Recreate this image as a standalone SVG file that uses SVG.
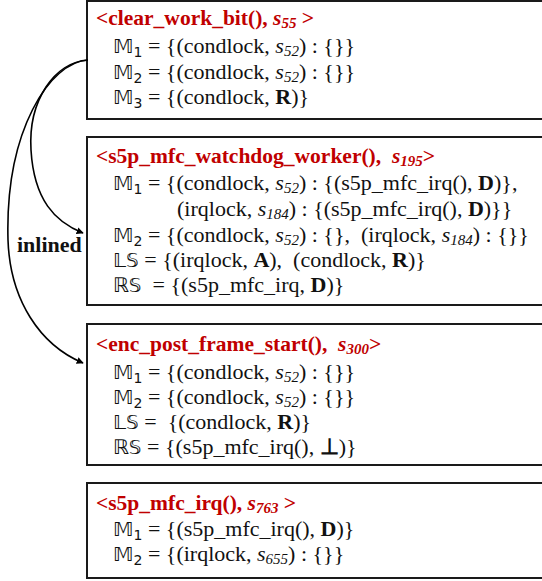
<svg xmlns="http://www.w3.org/2000/svg" width="542" height="581" viewBox="0 0 542 581">
  <style>
    .box { fill: #ffffff; stroke: #1a1a1a; stroke-width: 2; }
    .title { font-family: "Liberation Serif", "Times New Roman", serif; font-size: 21.5px; font-weight: bold; fill: #c00000; white-space: pre; }
    .body { font-family: "Liberation Serif", "Times New Roman", serif; font-size: 22px; fill: #111111; white-space: pre; }
    .ds { font-family: "DejaVu Sans", "Noto Sans", sans-serif; font-size: 20px; }
    .idx { font-family: "DejaVu Sans", "Noto Sans", sans-serif; font-size: 14px; }
    .sub { font-style: italic; font-size: 15px; }
    .it { font-style: italic; }
    .b { font-weight: bold; }
    .conn { fill: none; stroke: #000000; stroke-width: 1.6; }
    .label { font-family: "Liberation Serif", "Times New Roman", serif; font-size: 22px; font-weight: bold; fill: #111111; }
  </style>
  <defs>
    <marker id="arrow" viewBox="0 0 10 10" refX="9" refY="5" markerWidth="7" markerHeight="7" markerUnits="userSpaceOnUse" orient="auto">
      <path d="M0,0 L10,5 L0,10 z" fill="#000000"/>
    </marker>
  </defs>

  <rect width="542" height="581" fill="#ffffff"/>

  <!-- clear_work_bit -->
  <g id="clear_work_bit">
    <rect class="box" x="87" y="1" width="470" height="118"/>
    <text class="title" x="96" y="25">&lt;clear_work_bit(), <tspan class="it">s</tspan><tspan class="sub" dy="3">55</tspan><tspan dy="-3"> &gt;</tspan></text>
    <text class="body" x="113" y="53"><tspan class="ds">𝕄</tspan><tspan class="idx" dy="4">1</tspan><tspan dy="-4"> = {(condlock, </tspan><tspan class="it">s</tspan><tspan class="sub" dy="3">52</tspan><tspan dy="-3">) : {}}</tspan></text>
    <text class="body" x="113" y="79"><tspan class="ds">𝕄</tspan><tspan class="idx" dy="4">2</tspan><tspan dy="-4"> = {(condlock, </tspan><tspan class="it">s</tspan><tspan class="sub" dy="3">52</tspan><tspan dy="-3">) : {}}</tspan></text>
    <text class="body" x="113" y="104"><tspan class="ds">𝕄</tspan><tspan class="idx" dy="4">3</tspan><tspan dy="-4"> = {(condlock, </tspan><tspan class="b">R</tspan>)}</text>
  </g>

  <!-- s5p_mfc_watchdog_worker -->
  <g id="s5p_mfc_watchdog_worker">
    <rect class="box" x="87" y="137" width="470" height="168"/>
    <text class="title" x="96" y="163">&lt;s5p_mfc_watchdog_worker(),  <tspan class="it">s</tspan><tspan class="sub" dy="3">195</tspan><tspan dy="-3">&gt;</tspan></text>
    <text class="body" x="113" y="190"><tspan class="ds">𝕄</tspan><tspan class="idx" dy="4">1</tspan><tspan dy="-4"> = {(condlock, </tspan><tspan class="it">s</tspan><tspan class="sub" dy="3">52</tspan><tspan dy="-3">) : {(s5p_mfc_irq(), </tspan><tspan class="b">D</tspan>)},</text>
    <text class="body" x="177" y="216">(irqlock, <tspan class="it">s</tspan><tspan class="sub" dy="3">184</tspan><tspan dy="-3">) : {(s5p_mfc_irq(), </tspan><tspan class="b">D</tspan>)}}</text>
    <text class="body" x="113" y="242"><tspan class="ds">𝕄</tspan><tspan class="idx" dy="4">2</tspan><tspan dy="-4"> = {(condlock, </tspan><tspan class="it">s</tspan><tspan class="sub" dy="3">52</tspan><tspan dy="-3">) : {},  (irqlock, </tspan><tspan class="it">s</tspan><tspan class="sub" dy="3">184</tspan><tspan dy="-3">) : {}}</tspan></text>
    <text class="body" x="113" y="267"><tspan class="ds">𝕃𝕊</tspan> = {(irqlock, <tspan class="b">A</tspan>),  (condlock, <tspan class="b">R</tspan>)}</text>
    <text class="body" x="113" y="292"><tspan class="ds">ℝ𝕊</tspan>  = {(s5p_mfc_irq, <tspan class="b">D</tspan>)}</text>
  </g>

  <!-- enc_post_frame_start -->
  <g id="enc_post_frame_start">
    <rect class="box" x="87" y="324" width="470" height="141"/>
    <text class="title" x="96" y="351">&lt;enc_post_frame_start(),  <tspan class="it">s</tspan><tspan class="sub" dy="3">300</tspan><tspan dy="-3">&gt;</tspan></text>
    <text class="body" x="113" y="379"><tspan class="ds">𝕄</tspan><tspan class="idx" dy="4">1</tspan><tspan dy="-4"> = {(condlock, </tspan><tspan class="it">s</tspan><tspan class="sub" dy="3">52</tspan><tspan dy="-3">) : {}}</tspan></text>
    <text class="body" x="113" y="404"><tspan class="ds">𝕄</tspan><tspan class="idx" dy="4">2</tspan><tspan dy="-4"> = {(condlock, </tspan><tspan class="it">s</tspan><tspan class="sub" dy="3">52</tspan><tspan dy="-3">) : {}}</tspan></text>
    <text class="body" x="113" y="429"><tspan class="ds">𝕃𝕊</tspan> =  {(condlock, <tspan class="b">R</tspan>)}</text>
    <text class="body" x="113" y="454"><tspan class="ds">ℝ𝕊</tspan> = {(s5p_mfc_irq(), <tspan class="b">⊥</tspan>)}</text>
  </g>

  <!-- s5p_mfc_irq -->
  <g id="s5p_mfc_irq">
    <rect class="box" x="87" y="483" width="470" height="95"/>
    <text class="title" x="96" y="510">&lt;s5p_mfc_irq(), <tspan class="it">s</tspan><tspan class="sub" dy="3">763</tspan><tspan dy="-3"> &gt;</tspan></text>
    <text class="body" x="113" y="536"><tspan class="ds">𝕄</tspan><tspan class="idx" dy="4">1</tspan><tspan dy="-4"> = {(s5p_mfc_irq(), </tspan><tspan class="b">D</tspan>)}</text>
    <text class="body" x="113" y="561"><tspan class="ds">𝕄</tspan><tspan class="idx" dy="4">2</tspan><tspan dy="-4"> = {(irqlock, </tspan><tspan class="it">s</tspan><tspan class="sub" dy="3">655</tspan><tspan dy="-3">) : {}}</tspan></text>
  </g>

  <!-- inlining connectors -->
  <g id="connectors">
    <path class="conn" marker-end="url(#arrow)" d="M88,60 C55,62 28,100 31,150 C34,200 55,222 83,233"/>
    <path class="conn" marker-end="url(#arrow)" d="M88,60 C50,62 5,130 8,240 C10,300 40,345 83,363"/>
    <text class="label" x="17" y="252">inlined</text>
  </g>
</svg>
